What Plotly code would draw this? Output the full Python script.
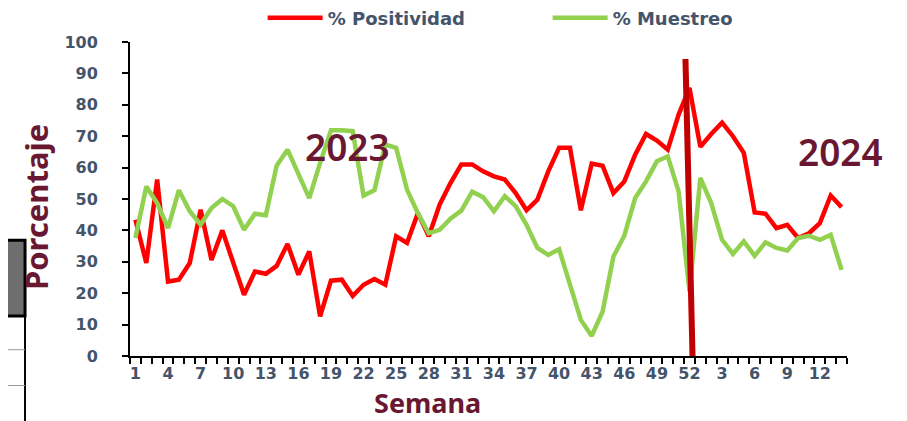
import plotly.graph_objects as go

# semanas: 2023 (1-52) seguidas de 2024 (1-14)
semanas = [str(w) for w in range(1, 53)] + [str(w) for w in range(1, 15)]

positividad = [43.4, 29.6, 56.2, 23.7, 24.3, 29.6, 46.6, 30.6, 40.0, 30.1, 19.5,
               26.9, 26.2, 28.7, 35.7, 25.9, 33.3, 12.6, 24.0, 24.3, 19.1, 22.7,
               24.5, 22.7, 38.1, 36.0, 45.5, 38.1, 48.2, 55.1, 61.0, 61.0, 58.8,
               57.2, 56.2, 51.9, 46.4, 49.8, 58.8, 66.3, 66.3, 46.4, 61.3, 60.6, 51.9,
               55.6, 64.1, 70.7, 68.6, 65.7, 76.9, 85.4, 66.6, 70.7, 74.3, 70.0,
               64.7, 45.7, 45.3, 40.7, 41.8, 37.6, 39.1, 42.3, 51.1, 47.4]

muestreo = [37.6, 54.0, 48.7, 40.7, 52.8, 46.1, 41.8, 47.1, 50.0, 47.7, 40.2,
            45.3, 44.8, 60.6, 65.7, 58.3, 50.3, 61.5, 71.9, 71.9, 71.6, 51.1,
            52.8, 67.3, 66.3, 53.0, 45.5, 39.1, 40.2, 43.7, 46.3, 52.3, 50.6,
            46.1, 50.9, 47.7, 41.8, 34.4, 32.2, 34.0, 23.2, 11.5, 6.4, 14.1, 31.7,
            38.3, 50.3, 55.6, 62.0, 63.6, 52.4, 20.5, 56.7, 48.7, 37.0, 32.5,
            36.5, 31.9, 36.2, 34.4, 33.6, 37.6, 38.3, 37.0, 38.6, 27.4]

x = list(range(1, len(semanas) + 1))
tick_pos = x[::3]
tick_txt = semanas[::3]

TICK = '#44546A'
MAROON = '#6A1832'

fig = go.Figure()
fig.add_trace(go.Scatter(x=x, y=positividad, mode='lines', name='% Positividad',
                         line=dict(color='#FF0000', width=4.5)))
fig.add_trace(go.Scatter(x=x, y=muestreo, mode='lines', name='% Muestreo',
                         line=dict(color='#92D050', width=4.5)))

# separador entre años
fig.add_shape(type='line', xref='x', yref='y', x0=51.63, y0=94.6, x1=52.28, y1=0,
              line=dict(color='#C00000', width=6))

fig.add_annotation(x=20.5, y=66.7, xref='x', yref='y', text='2023', showarrow=False,
                   font=dict(size=37, color=MAROON, family='Noto Sans', weight=600))
fig.add_annotation(x=65.9, y=65.1, xref='x', yref='y', text='2024', showarrow=False,
                   font=dict(size=37, color=MAROON, family='Noto Sans', weight=600))
fig.add_annotation(x=-0.131, y=0.4745, xref='paper', yref='paper', text='<b>Porcentaje</b>',
                   textangle=-90, showarrow=False, xanchor='center', yanchor='middle',
                   font=dict(size=31, color=MAROON, family='Noto Sans'))
fig.add_annotation(x=0.4156, y=-0.147, xref='paper', yref='paper', text='<b>Semana</b>',
                   showarrow=False, xanchor='center', yanchor='middle', borderpad=0,
                   font=dict(size=27, color=MAROON, family='Noto Sans'))

# recorte de la tabla vecina a la izquierda
fig.add_shape(type='rect', xref='paper', yref='paper', x0=-0.185, x1=-0.1464, y0=0.127, y1=0.369,
              fillcolor='#6E6E6E', line=dict(color='black', width=3))
fig.add_shape(type='line', xref='paper', yref='paper', x0=-0.1464, x1=-0.1464, y0=0.127, y1=-0.23,
              line=dict(color='black', width=2))
for yy in [0.02, -0.094]:
    fig.add_shape(type='line', xref='paper', yref='paper', x0=-0.185, x1=-0.1464, y0=yy, y1=yy,
                  line=dict(color='#999999', width=1))

# la página añade 8 px de margen al cuerpo; se compensa aquí
fig.update_layout(
    width=907, height=421,
    margin=dict(l=122, r=68, t=34, b=73, autoexpand=False),
    paper_bgcolor='white', plot_bgcolor='white',
    font=dict(family='DejaVu Sans', color=TICK),
    showlegend=True,
    legend=dict(orientation='h', x=0.185, y=0.976, xanchor='left', yanchor='middle',
                yref='container', itemwidth=55,
                font=dict(size=18, color=TICK, weight='bold'), entrywidth=215,
                bgcolor='rgba(0,0,0,0)'),
)
fig.update_xaxes(range=[0.5, len(x) + 0.5], tickmode='array', tickvals=tick_pos, ticktext=tick_txt,
                 tickangle=0, ticks='', showgrid=False, zeroline=False,
                 showline=True, linecolor='black', linewidth=2, ticklabelstandoff=2,
                 tickfont=dict(size=16, color=TICK, weight='bold'),
                 minor=dict(ticks='outside', tick0=0.5, dtick=1, ticklen=6, tickcolor='black',
                            tickwidth=1.5, showgrid=False))
fig.update_yaxes(range=[0, 100], dtick=10, ticks='outside', ticklen=6, tickcolor='black',
                 tickwidth=1.5, showgrid=False, zeroline=False, ticklabelstandoff=21,
                 showline=True, linecolor='black', linewidth=2,
                 tickfont=dict(size=16, color=TICK, weight='bold'))

fig.write_html('out.html')
